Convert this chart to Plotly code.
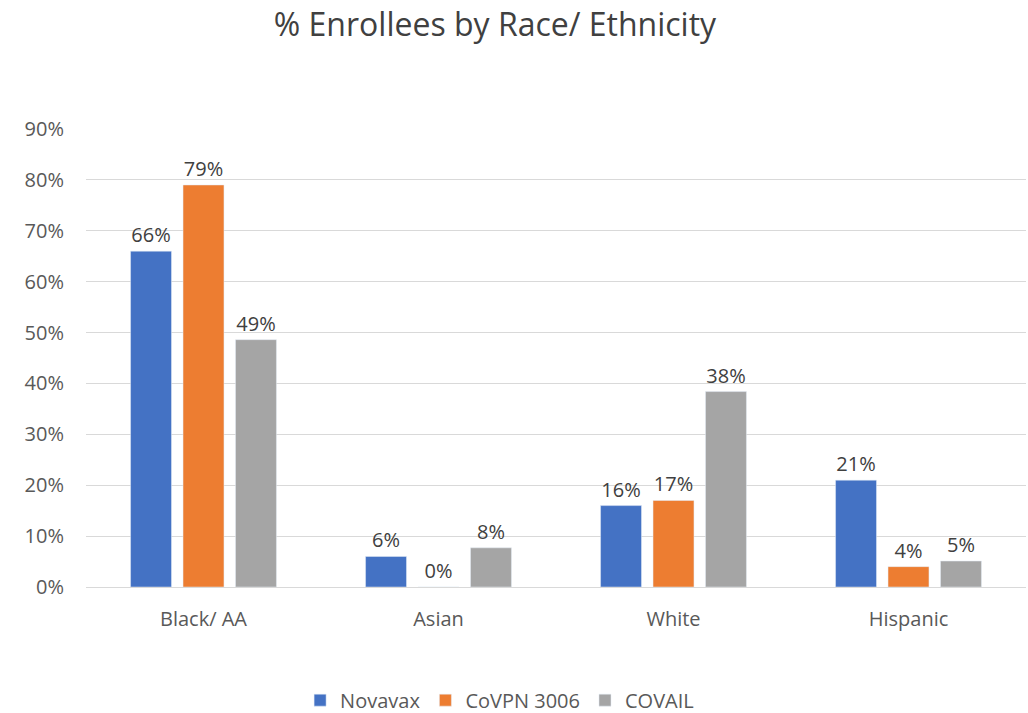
import plotly.graph_objects as go

categories = ["Black/ AA", "Asian", "White", "Hispanic"]
novavax = [0.66, 0.06, 0.16, 0.21]
covpn = [0.79, 0.00, 0.17, 0.04]
covail = [0.486, 0.077, 0.384, 0.051]

series = [("Novavax", novavax, "#4472C4"),
          ("CoVPN 3006", covpn, "#ED7D31"),
          ("COVAIL", covail, "#A5A5A5")]

fig = go.Figure()
for name, vals, color in series:
    fig.add_trace(go.Bar(
        x=categories, y=vals, name=name,
        marker=dict(color=color),
        texttemplate="%{y:.0%}", textposition="outside",
        textfont=dict(size=20, color="#404040", family="Open Sans"),
        cliponaxis=False,
    ))

fig.update_layout(
    width=1028, height=713,
    paper_bgcolor="white", plot_bgcolor="white",
    margin=dict(l=86, r=2, t=129, b=126, autoexpand=False),
    barmode="group", bargap=0.33, bargroupgap=0.22,
    font=dict(family="Open Sans", color="#595959", size=20),
    title=dict(text="% Enrollees by Race/ Ethnicity", x=0.4815, xanchor="center",
               y=1 - 25 / 713, yanchor="middle",
               font=dict(size=32, color="#404040", family="Open Sans")),
    legend=dict(orientation="h", x=0.44, xanchor="center", y=-0.247, yanchor="middle",
                font=dict(size=20, color="#595959"), itemwidth=30, traceorder="normal"),
    showlegend=True,
)
fig.update_yaxes(range=[0, 0.9], dtick=0.1, tickformat=".0%", showgrid=True,
                 gridcolor="#d9d9d9", gridwidth=1, zeroline=False, showline=False,
                 ticks="", ticklabelstandoff=21, automargin=False)
fig.update_xaxes(showline=True, linecolor="#d9d9d9", ticks="", ticklabelstandoff=14,
                 automargin=False)

fig.write_html("out.html")
